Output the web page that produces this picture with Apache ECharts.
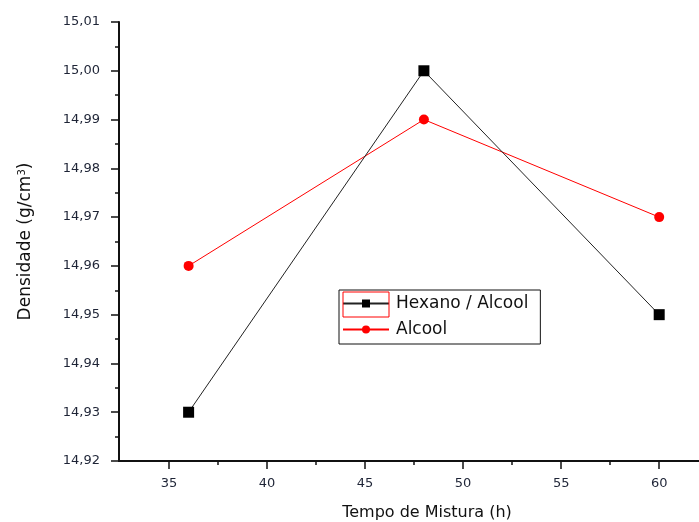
<!DOCTYPE html>
<html>
<head>
<meta charset="utf-8">
<script src="https://cdn.jsdelivr.net/npm/echarts@6/dist/echarts.min.js"></script>
<style>
  html, body { margin: 0; padding: 0; background: #fff; }
  #chart { width: 699px; height: 522px; }
</style>
</head>
<body>
<div id="chart"></div>
<script>
// Mixing time (h) and measured density (g/cm3)
const tempos = [36, 48, 60];
const hexanoAlcool = [14.93, 15.00, 14.95];
const alcool = [14.96, 14.99, 14.97];
const xMajorTicks = [35, 40, 45, 50, 55, 60];
const xMinorTicks = [37.5, 42.5, 47.5, 52.5, 57.5];

const font = 'DejaVu Sans, Liberation Sans, sans-serif';
const toPairs = (ys) => tempos.map((t, i) => [t, ys[i]]);
const virgula = (v) => v.toFixed(2).replace('.', ',');

const chart = echarts.init(document.getElementById('chart'), null, { renderer: 'canvas' });
chart.setOption({
  backgroundColor: '#fff',
  animation: false,
  grid: { left: 119, right: 0, top: 22, bottom: 61, containLabel: false, outerBoundsMode: 'none' },
  xAxis: [{
    type: 'value',
    min: 32.45,
    max: 62.03,
    name: 'Tempo de Mistura (h)',
    nameLocation: 'middle',
    nameGap: 44,
    nameTextStyle: { fontFamily: font, fontSize: 16, color: '#111', padding: [0, 0, 0, 36] },
    axisLine: { show: true, onZero: false, lineStyle: { color: '#111', width: 2 } },
    axisTick: { show: true, length: 8, customValues: xMajorTicks, lineStyle: { color: '#111', width: 1.5 } },
    axisLabel: { margin: 16, customValues: xMajorTicks, fontFamily: font, fontSize: 13, color: '#1e2436' },
    splitLine: { show: false }
  }, {
    type: 'value',
    position: 'bottom',
    min: 32.45,
    max: 62.03,
    axisLine: { show: false },
    axisTick: { show: true, length: 4, customValues: xMinorTicks, lineStyle: { color: '#111', width: 1.5 } },
    axisLabel: { show: false },
    splitLine: { show: false }
  }],
  yAxis: {
    type: 'value',
    min: 14.92,
    max: 15.01,
    interval: 0.01,
    name: 'Densidade (g/cm{sup|3})',
    nameLocation: 'middle',
    nameGap: 84,
    nameTextStyle: {
      fontFamily: font, fontSize: 17, color: '#111',
      rich: { sup: { fontFamily: font, fontSize: 10, verticalAlign: 'top', padding: [0, 0, 8, 0], color: '#111' } }
    },
    axisLine: { show: true, onZero: false, lineStyle: { color: '#111', width: 2 } },
    axisTick: { show: true, length: 8, lineStyle: { color: '#111', width: 1.5 } },
    minorTick: { show: true, splitNumber: 2, length: 4, lineStyle: { color: '#111', width: 1.5 } },
    axisLabel: { margin: 19, fontFamily: font, fontSize: 13, color: '#1e2436', formatter: virgula },
    splitLine: { show: false },
    minorSplitLine: { show: false }
  },
  legend: {
    orient: 'vertical',
    left: 339,
    top: 290,
    backgroundColor: '#fff',
    borderColor: '#111',
    borderWidth: 1,
    borderRadius: 0,
    padding: [5, 12, 6, 3],
    itemWidth: 46,
    itemHeight: 10,
    itemGap: 9,
    textStyle: { fontFamily: font, fontSize: 17, color: '#111', lineHeight: 16, padding: [0, 0, 0, 2] },
    data: ['Hexano / Alcool', 'Alcool']
  },
  series: [{
    name: 'Hexano / Alcool',
    type: 'line',
    data: toPairs(hexanoAlcool),
    symbol: 'rect',
    symbolSize: 11,
    lineStyle: { color: '#222', width: 1 },
    itemStyle: { color: '#000' },
    z: 3
  }, {
    name: 'Alcool',
    type: 'line',
    data: toPairs(alcool),
    symbol: 'circle',
    symbolSize: 10,
    lineStyle: { color: '#ff0000', width: 1 },
    itemStyle: { color: '#ff0000' },
    z: 2
  }],
  graphic: [{
    type: 'rect',
    shape: { x: 343, y: 292, width: 46, height: 25 },
    style: { fill: 'none', stroke: '#ff0000', lineWidth: 1 },
    z: 100
  }]
});
</script>
</body>
</html>
